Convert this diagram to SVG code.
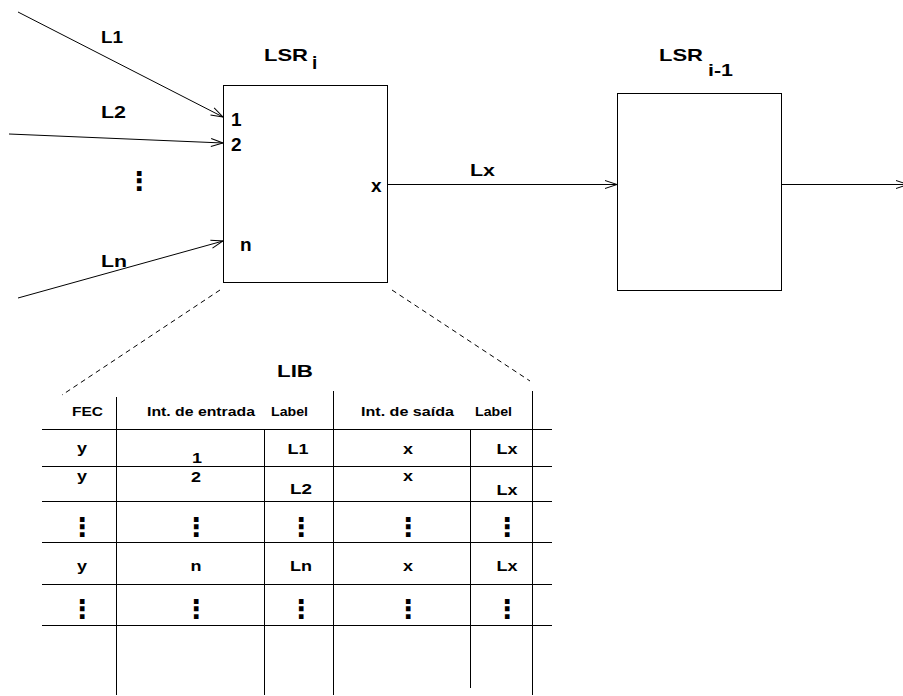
<svg xmlns="http://www.w3.org/2000/svg" width="903" height="696" viewBox="0 0 903 696">
<style>
text { font-family: "Liberation Sans", Arial, sans-serif; font-weight: bold; fill: #000; }
.m { font-size: 17px; }
.p { font-size: 19px; }
.h { font-size: 13px; }
.c { font-size: 15px; text-anchor: middle; }
.d { font-family: "DejaVu Sans", sans-serif; font-size: 26px; text-anchor: middle; }
.box { fill: #fff; stroke: #000; stroke-width: 1; }
.ln { stroke: #000; stroke-width: 1; fill: none; }
.dash { stroke: #000; stroke-width: 1; fill: none; stroke-dasharray: 5 4; }
</style>
<defs>
<marker id="arr" markerUnits="userSpaceOnUse" markerWidth="14" markerHeight="10" refX="12" refY="4" orient="auto" overflow="visible">
<path d="M0,0 L12,4 L0,8" fill="none" stroke="#000" stroke-width="1"/>
</marker>
</defs>
<rect width="903" height="696" fill="#fff"/>

<g id="connectors">
<line class="ln" x1="18" y1="12" x2="223" y2="117" marker-end="url(#arr)"/>
<line class="ln" x1="9" y1="134" x2="223" y2="143" marker-end="url(#arr)"/>
<line class="ln" x1="18" y1="298" x2="223" y2="241" marker-end="url(#arr)"/>
<line class="ln" x1="387" y1="184.5" x2="617" y2="184.5" marker-end="url(#arr)"/>
<line class="ln" x1="781" y1="184.5" x2="908" y2="184.5" marker-end="url(#arr)"/>
<line class="dash" x1="220" y1="290" x2="62" y2="395"/>
<line class="dash" x1="392" y1="290" x2="530" y2="381"/>
</g>

<g id="labels-in">
<text class="m" x="101" y="43" textLength="22" lengthAdjust="spacingAndGlyphs">L1</text>
<text class="m" x="101" y="118" textLength="25" lengthAdjust="spacingAndGlyphs">L2</text>
<text class="m" x="101" y="267" textLength="26" lengthAdjust="spacingAndGlyphs">Ln</text>
<text class="d" x="139" y="190">⋮</text>
<text class="m" x="470" y="176" textLength="25" lengthAdjust="spacingAndGlyphs">Lx</text>
</g>

<g id="lsr-i">
<rect class="box" x="223.5" y="85.5" width="164" height="197"/>
<text class="m" x="264" y="61" textLength="44" lengthAdjust="spacingAndGlyphs">LSR</text>
<text class="p" x="312" y="69">i</text>
<text class="p" x="231" y="126">1</text>
<text class="p" x="231" y="151">2</text>
<text class="p" x="240" y="251">n</text>
<text class="p" x="371" y="192">x</text>
</g>

<g id="lsr-i-1">
<rect class="box" x="617.5" y="93.5" width="164" height="197"/>
<text class="m" x="659" y="61" textLength="44" lengthAdjust="spacingAndGlyphs">LSR</text>
<text class="m" x="708" y="76" textLength="25" lengthAdjust="spacingAndGlyphs">i-1</text>
</g>

<g id="lib">
<text class="m" x="277" y="377" textLength="36" lengthAdjust="spacingAndGlyphs">LIB</text>
<g class="ln">
<line x1="116.5" y1="397" x2="116.5" y2="695"/>
<line x1="264.5" y1="429" x2="264.5" y2="695"/>
<line x1="333.5" y1="391" x2="333.5" y2="695"/>
<line x1="470.5" y1="429" x2="470.5" y2="688"/>
<line x1="532.5" y1="391" x2="532.5" y2="695"/>
<line x1="42" y1="429.5" x2="552" y2="429.5"/>
<line x1="42" y1="466.5" x2="552" y2="466.5"/>
<line x1="42" y1="501.5" x2="552" y2="501.5"/>
<line x1="42" y1="542.5" x2="552" y2="542.5"/>
<line x1="42" y1="584.5" x2="552" y2="584.5"/>
<line x1="42" y1="625.5" x2="552" y2="625.5"/>
</g>
<text class="h" x="72" y="416" textLength="31" lengthAdjust="spacingAndGlyphs">FEC</text>
<text class="h" x="147" y="416" textLength="108" lengthAdjust="spacingAndGlyphs">Int. de entrada</text>
<text class="h" x="271" y="416" textLength="37" lengthAdjust="spacingAndGlyphs">Label</text>
<text class="h" x="361" y="416" textLength="93" lengthAdjust="spacingAndGlyphs">Int. de saída</text>
<text class="h" x="475" y="416" textLength="37" lengthAdjust="spacingAndGlyphs">Label</text>

<text class="c" x="82" y="453" textLength="10" lengthAdjust="spacingAndGlyphs">y</text>
<text class="c" x="197" y="463" textLength="10" lengthAdjust="spacingAndGlyphs">1</text>
<text class="c" x="298" y="454" textLength="21" lengthAdjust="spacingAndGlyphs">L1</text>
<text class="c" x="408" y="454" textLength="10" lengthAdjust="spacingAndGlyphs">x</text>
<text class="c" x="507" y="454" textLength="21" lengthAdjust="spacingAndGlyphs">Lx</text>

<text class="c" x="82" y="481" textLength="10" lengthAdjust="spacingAndGlyphs">y</text>
<text class="c" x="196" y="482" textLength="10" lengthAdjust="spacingAndGlyphs">2</text>
<text class="c" x="301" y="494" textLength="22" lengthAdjust="spacingAndGlyphs">L2</text>
<text class="c" x="408" y="481" textLength="10" lengthAdjust="spacingAndGlyphs">x</text>
<text class="c" x="507" y="495" textLength="21" lengthAdjust="spacingAndGlyphs">Lx</text>

<text class="d" x="82" y="536">⋮</text>
<text class="d" x="196" y="536">⋮</text>
<text class="d" x="301" y="536">⋮</text>
<text class="d" x="408" y="536">⋮</text>
<text class="d" x="507" y="536">⋮</text>

<text class="c" x="82" y="571" textLength="10" lengthAdjust="spacingAndGlyphs">y</text>
<text class="c" x="196" y="571" textLength="11" lengthAdjust="spacingAndGlyphs">n</text>
<text class="c" x="301" y="571" textLength="22" lengthAdjust="spacingAndGlyphs">Ln</text>
<text class="c" x="408" y="571" textLength="10" lengthAdjust="spacingAndGlyphs">x</text>
<text class="c" x="507" y="571" textLength="21" lengthAdjust="spacingAndGlyphs">Lx</text>

<text class="d" x="82" y="618">⋮</text>
<text class="d" x="196" y="618">⋮</text>
<text class="d" x="301" y="618">⋮</text>
<text class="d" x="408" y="618">⋮</text>
<text class="d" x="507" y="618">⋮</text>
</g>
</svg>
